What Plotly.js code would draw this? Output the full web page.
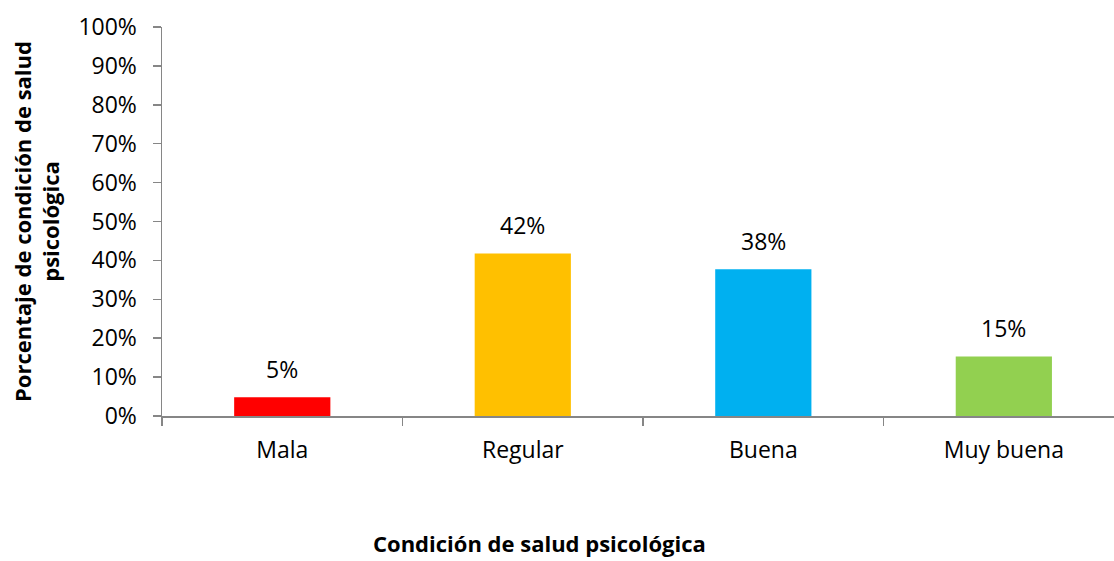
<!DOCTYPE html>
<html>
<head>
<meta charset="utf-8">
<script src="https://cdn.plot.ly/plotly-3.0.1.min.js"></script>
<style>html,body{margin:0;padding:0;background:#fff;}#chart{width:1114px;height:561px;}</style>
</head>
<body>
<div id="chart"></div>
<script>
const categories = ["Mala", "Regular", "Buena", "Muy buena"];
const values = [0.048, 0.418, 0.377, 0.153];
const barColors = ["#FF0000", "#FFC000", "#00B0F0", "#92D050"];
const xTitle = "Condición de salud psicológica";
const yTitle = "Porcentaje de condición de salud<br>psicológica";

const font = "'Open Sans', sans-serif";
const fs = 23;
const trace = {
  type: "bar",
  x: categories,
  y: values,
  marker: {color: barColors},
  width: 0.4,
  hoverinfo: "skip"
};
const valueLabels = categories.map((c, i) => ({
  x: c, y: values[i], xref: "x", yref: "y",
  text: Math.round(values[i] * 100) + "%",
  showarrow: false, yanchor: "bottom", yshift: 10,
  font: {family: font, size: fs, color: "#000"}
}));
const xTitleAnn = {
  text: xTitle, xref: "paper", yref: "paper",
  x: (539 - 162) / (1114 - 162), y: -0.37, yanchor: "bottom", xanchor: "center",
  showarrow: false,
  font: {family: font, size: 22, color: "#000", weight: "bold"}
};
const layout = {
  width: 1114, height: 561,
  margin: {l: 162, r: 0, t: 27, b: 145},
  paper_bgcolor: "#fff", plot_bgcolor: "#fff",
  showlegend: false,
  font: {family: font, size: fs, color: "#000"},
  annotations: valueLabels.concat([xTitleAnn]),
  xaxis: {
    type: "category",
    range: [-0.5, 3.458],
    showline: true, linecolor: "#868686", linewidth: 1.5,
    ticks: "outside", tickson: "boundaries", ticklen: 8, tickcolor: "#868686", tickwidth: 1.5,
    ticklabelstandoff: 13,
    showgrid: false, zeroline: false,
    tickfont: {family: font, size: fs, color: "#000"},
    automargin: false
  },
  yaxis: {
    range: [0, 1],
    dtick: 0.1, tickformat: ".0%",
    showline: true, linecolor: "#868686", linewidth: 1.5,
    ticks: "outside", ticklen: 8, tickcolor: "#868686", tickwidth: 1.5,
    ticklabelstandoff: 11,
    showgrid: false, zeroline: false,
    tickfont: {family: font, size: fs, color: "#000"},
    title: {text: yTitle, font: {family: font, size: 22, color: "#000", weight: "bold"}, standoff: 12},
    automargin: false
  }
};
Plotly.newPlot("chart", [trace], layout, {displayModeBar: false, staticPlot: true});
</script>
</body>
</html>
